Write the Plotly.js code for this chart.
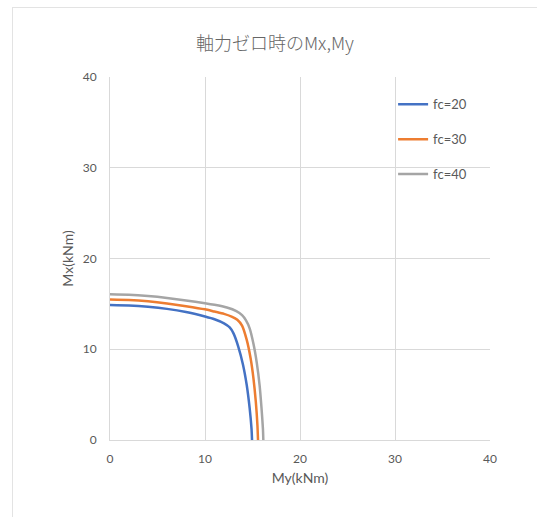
<!DOCTYPE html>
<html>
<head>
<meta charset="utf-8">
<script src="https://cdn.plot.ly/plotly-3.0.1.min.js"></script>
<style>
html,body{margin:0;padding:0;background:#fff;}
#frame{position:absolute;left:12px;top:7px;width:600px;height:600px;border-left:1px solid #e3e3e3;border-top:1px solid #e3e3e3;pointer-events:none;}
#chart{position:absolute;left:0;top:0;width:537px;height:517px;}
</style>
</head>
<body>
<div id="chart"></div>
<div id="frame"></div>
<script>
const seriesNames = ["fc=20", "fc=30", "fc=40"];
const colors = ["#4472C4", "#ED7D31", "#A5A5A5"];

const myFc20 = [0, 2, 4, 6, 8, 10, 11, 12, 12.6, 13.0, 13.5, 14.0, 14.4, 14.7, 14.9, 14.95];
const mxFc20 = [14.87, 14.82, 14.68, 14.45, 14.1, 13.6, 13.3, 12.85, 12.4, 11.75, 10.3, 8.3, 6.0, 3.5, 1.2, 0];

const myFc30 = [0, 2, 4, 6, 8, 10, 11, 12, 12.8, 13.4, 13.9, 14.4, 14.8, 15.1, 15.35, 15.52, 15.58];
const mxFc30 = [15.47, 15.42, 15.28, 15.05, 14.75, 14.4, 14.15, 13.9, 13.6, 13.25, 12.6, 11.0, 9.0, 6.8, 4.2, 1.6, 0];

const myFc40 = [0, 2, 4, 6, 8, 10, 11, 12.3, 13.3, 13.9, 14.3, 14.7, 15.1, 15.45, 15.75, 15.95, 16.1, 16.14];
const mxFc40 = [16.05, 16.0, 15.86, 15.65, 15.38, 15.08, 14.9, 14.6, 14.2, 13.75, 13.2, 12.3, 10.6, 8.5, 6.0, 3.5, 1.2, 0];

const xs = [myFc20, myFc30, myFc40];
const ys = [mxFc20, mxFc30, mxFc40];

const traces = seriesNames.map((n, i) => ({
  type: "scatter",
  mode: "lines",
  name: n,
  legendgroup: "g" + i,
  x: xs[i],
  y: ys[i],
  line: {color: colors[i], width: 2.5, shape: "spline", smoothing: 0.6}
}));

const axisFont = {family: "Lato, 'Noto Sans', sans-serif", size: 12, color: "#595959"};
const titleFont = {family: "Lato, 'Noto Sans', sans-serif", size: 14, color: "#595959"};

const layout = {
  width: 537,
  height: 517,
  margin: {l: 110, r: 47, t: 77, b: 77},
  paper_bgcolor: "rgba(0,0,0,0)",
  plot_bgcolor: "#fff",
  title: {
    text: "軸力ゼロ時のMx,My",
    font: {family: "'Noto Sans CJK JP', sans-serif", size: 18, color: "#666666", weight: 300},
    x: 0.512, xanchor: "center", y: 0.915, yanchor: "middle"
  },
  xaxis: {
    range: [0, 40],
    tickvals: [0, 10, 20, 30, 40],
    showgrid: true, gridcolor: "#d9d9d9", gridwidth: 1,
    showline: true, linecolor: "#d9d9d9", linewidth: 1,
    zeroline: false,
    ticks: "", ticklabelstandoff: 8,
    tickfont: axisFont,
    title: {text: "My(kNm)", font: titleFont, standoff: 7},
    fixedrange: true
  },
  yaxis: {
    range: [0, 40],
    tickvals: [0, 10, 20, 30, 40],
    showgrid: true, gridcolor: "#d9d9d9", gridwidth: 1,
    showline: true, linecolor: "#d9d9d9", linewidth: 1,
    zeroline: false,
    ticks: "", ticklabelstandoff: 10,
    tickfont: axisFont,
    title: {text: "Mx(kNm)", font: titleFont, standoff: 5},
    fixedrange: true
  },
  legend: {
    x: 0.745, y: 0.966, xanchor: "left", yanchor: "top",
    bgcolor: "rgba(0,0,0,0)",
    font: {family: "Lato, 'Noto Sans', sans-serif", size: 13, color: "#595959"},
    traceorder: "grouped",
    tracegroupgap: 15,
    itemwidth: 30
  },
  showlegend: true
};

Plotly.newPlot("chart", traces, layout, {displayModeBar: false, staticPlot: true});
</script>
</body>
</html>
